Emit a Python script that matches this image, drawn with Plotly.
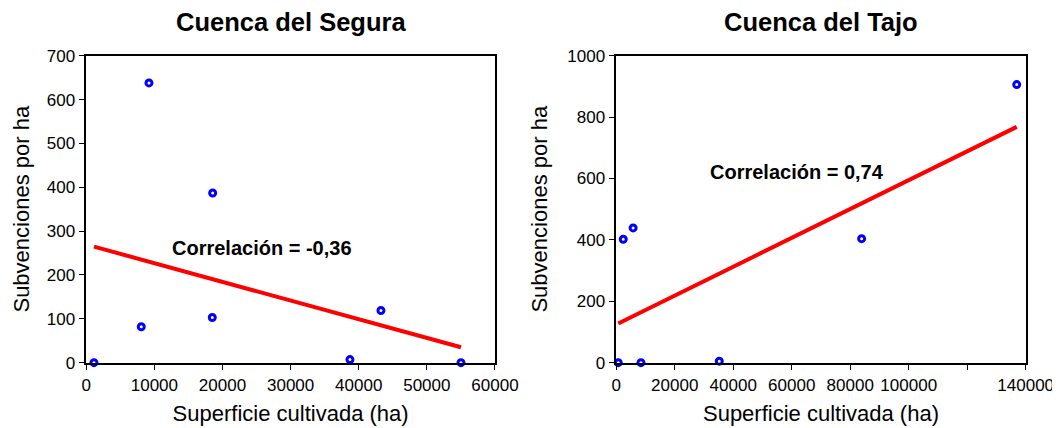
import numpy as np
import plotly.graph_objects as go

# ---- data ----
segura_sup = [1130, 9205, 8075, 18555, 18500, 38710, 43260, 55010]
segura_subv = [0, 638, 82, 387, 103, 7, 119, 0]

tajo_sup = [680, 2390, 5760, 8450, 35220, 83900, 136930]
tajo_subv = [0, 402, 439, 0, 5, 404, 906]

titles = ["Cuenca del Segura", "Cuenca del Tajo"]
corr_labels = ["Correlación = -0,36", "Correlación = 0,74"]
x_title = "Superficie cultivada (ha)"
y_title = "Subvenciones por ha"

seg_xticks = [0, 10000, 20000, 30000, 40000, 50000, 60000]
seg_yticks = [0, 100, 200, 300, 400, 500, 600, 700]
tajo_xticks = [0, 20000, 40000, 60000, 80000, 100000, 120000, 140000]
tajo_xticklabels = ["0", "20000", "40000", "60000", "80000", "100000", "", "140000"]
tajo_yticks = [0, 200, 400, 600, 800, 1000]

FONT = "Liberation Sans, Arial, sans-serif"
BLUE = "#0000FF"
RED = "#FF0000"

fig = go.Figure()


def add_panel(xs, ys, xa, ya):
    fig.add_trace(go.Scatter(
        x=xs, y=ys, mode="markers", xaxis=xa, yaxis=ya,
        marker=dict(symbol="circle-open", size=6, color=BLUE,
                    line=dict(width=3, color=BLUE)),
        cliponaxis=False, showlegend=False, hoverinfo="x+y"))
    m, b = np.polyfit(xs, ys, 1)
    lx = np.array([min(xs), max(xs)], dtype=float)
    fig.add_trace(go.Scatter(
        x=lx, y=m * lx + b, mode="lines", xaxis=xa, yaxis=ya,
        line=dict(color=RED, width=4), showlegend=False, hoverinfo="skip"))


add_panel(segura_sup, segura_subv, "x", "y")
add_panel(tajo_sup, tajo_subv, "x2", "y2")

axis_common = dict(
    showline=True, linecolor="black", linewidth=1.5, mirror=True,
    ticks="outside", ticklen=6, tickwidth=1.2, tickcolor="black",
    showgrid=False, zeroline=False, automargin=False,
    tickfont=dict(family=FONT, size=17, color="black"),
)
# The page has an 8px body margin, so the figure is 1052x420 placed at (8, 8).
ydom = [0.1555, 0.8864]
xdom1 = [0.0744, 0.4629]
xdom2 = [0.5782, 0.9674]

fig.update_layout(
    width=1052, height=420,
    margin=dict(l=0, r=0, t=0, b=0),
    paper_bgcolor="white", plot_bgcolor="white",
    font=dict(family=FONT, color="black"),
    xaxis=dict(domain=xdom1, range=[0, 60000],
               tickmode="array", tickvals=seg_xticks,
               ticktext=[str(v) for v in seg_xticks],
               title=dict(text=x_title, font=dict(family=FONT, size=22), standoff=12),
               **axis_common),
    yaxis=dict(domain=ydom, range=[0, 700], anchor="x",
               tickmode="array", tickvals=seg_yticks,
               ticktext=[str(v) for v in seg_yticks],
               title=dict(text=y_title, font=dict(family=FONT, size=22), standoff=11),
               **axis_common),
    xaxis2=dict(domain=xdom2, range=[0, 140000], anchor="y2",
                tickmode="array", tickvals=tajo_xticks, ticktext=tajo_xticklabels,
                title=dict(text=x_title, font=dict(family=FONT, size=22), standoff=12),
                **axis_common),
    yaxis2=dict(domain=ydom, range=[0, 1000], anchor="x2",
                tickmode="array", tickvals=tajo_yticks,
                ticktext=[str(v) for v in tajo_yticks],
                title=dict(text=y_title, font=dict(family=FONT, size=22), standoff=14),
                **axis_common),
)

# Panel titles
for t, dom in zip(titles, [xdom1, xdom2]):
    fig.add_annotation(text="<b>%s</b>" % t, xref="paper", yref="paper",
                       x=(dom[0] + dom[1]) / 2, y=0.967, showarrow=False,
                       xanchor="center", yanchor="middle",
                       font=dict(family=FONT, size=25.5, color="black"))

# Correlation labels
fig.add_annotation(text="<b>%s</b>" % corr_labels[0], xref="x", yref="y",
                   x=25800, y=262, showarrow=False, xanchor="center", yanchor="middle",
                   font=dict(family=FONT, size=20, color="black"))
fig.add_annotation(text="<b>%s</b>" % corr_labels[1], xref="x2", yref="y2",
                   x=61960, y=620, showarrow=False, xanchor="center", yanchor="middle",
                   font=dict(family=FONT, size=20, color="black"))

fig.write_html("out.html")
